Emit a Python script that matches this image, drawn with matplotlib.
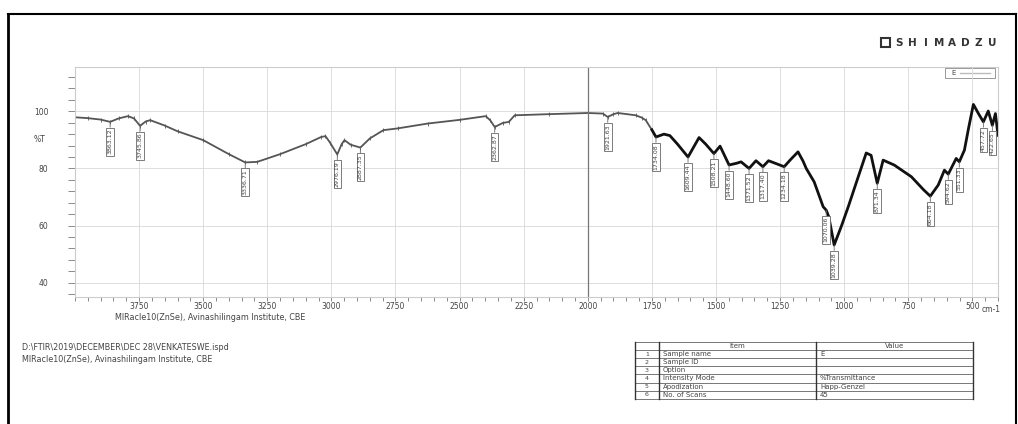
import matplotlib.pyplot as plt
import numpy as np
from matplotlib.ticker import MultipleLocator

# Datos del espectro

numero_onda = [4000, 3950, 3900, 3863, 3830, 3793, 3770, 3746, 3725, 3707, 3650, 3600, 3500,
               3400, 3336, 3289, 3200, 3100, 3040, 3023, 3005, 2977, 2960, 2949, 2925, 2887,
               2850, 2797, 2742, 2625, 2500, 2398, 2380, 2363, 2332, 2308, 2285, 2150, 2000,
               1941, 1922, 1900, 1883, 1813, 1790, 1774, 1750, 1734, 1703, 1680, 1650, 1609,
               1566, 1540, 1508, 1484, 1449, 1420, 1402, 1371, 1344, 1317, 1295, 1260, 1234,
               1210, 1180, 1160, 1148, 1117, 1082, 1070, 1060, 1039, 1010, 984, 945, 914, 895,
               871, 848, 805, 738, 690, 664, 633, 609, 594, 563, 551, 531, 515, 496, 475, 457,
               438, 422, 410, 400]
transmitancia = [97.9, 97.6, 97.1, 96.3, 97.5, 98.3, 97.5, 94.9, 96.4, 96.9, 95.0, 93.0, 89.9,
                 85.0, 82.1, 82.3, 85.0, 88.5, 91.0, 91.3, 89.0, 84.9, 88.5, 89.9, 88.3, 87.3,
                 90.5, 93.4, 94.0, 95.7, 97.0, 98.3, 96.8, 94.5, 95.9, 96.3, 98.6, 99.0, 99.4,
                 99.2, 98.0, 99.0, 99.4, 98.6, 97.8, 96.9, 93.5, 91.0, 92.0, 91.5, 88.5, 84.0,
                 90.8, 88.5, 85.2, 87.8, 81.2, 81.8, 82.3, 80.0, 82.7, 80.6, 82.7, 81.5, 80.6,
                 83.0, 85.8, 82.5, 80.0, 75.3, 66.6, 65.4, 63.1, 53.2, 60.0, 66.6, 77.1, 85.4, 84.6,
                 74.8, 82.9, 81.2, 77.1, 72.5, 70.3, 74.2, 79.4, 78.0, 83.5, 82.3, 86.4, 94.0, 102.4,
                 99.0, 96.3, 100.1, 95.1, 99.2, 91.6]

# Picos etiquetados
picos_x = [3863, 3746, 3336, 2977, 2887, 2363, 1922, 1734, 1609, 1508, 1449, 1371, 1317,
           1234, 1070, 1039, 871, 664, 594, 551, 457, 422]
picos_y = [96.3, 94.9, 82.1, 84.9, 87.3, 94.5, 98.0, 91.0, 84.0, 85.2, 81.2, 80.0, 80.6,
           80.6, 65.4, 53.2, 74.8, 70.3, 78.0, 82.3, 96.3, 95.1]
picos_etiquetas = ['3863.12', '3745.86', '3336.71', '2976.19', '2887.35', '2362.87', '1921.63',
                   '1734.08', '1609.44', '1508.21', '1448.60', '1371.52', '1317.40', '1234.18',
                   '1070.06', '1039.28', '871.34', '664.18', '594.62', '551.33', '457.72', '422.65']

# Tabla de parametros
tabla_num = ['1', '2', '3', '4', '5', '6']
tabla_item = ['Sample name', 'Sample ID', 'Option', 'Intensity Mode', 'Apodization', 'No. of Scans']
tabla_valor = ['E', '', '', '%Transmittance', 'Happ-Genzel', '45']

gris = '#444444'

fig = plt.figure(figsize=(10.18, 4.24), dpi=100)

# Capa de decoracion en pixeles
deco = fig.add_axes([0, 0, 1, 1])
deco.set_xlim(0, 1018)
deco.set_ylim(424, 0)
deco.axis('off')

ax = fig.add_axes([75 / 1018, 1 - 297 / 424, 923 / 1018, 230 / 424])
ax.set_zorder(2)
ax.patch.set_alpha(0)

# Espectro
x = np.array(numero_onda)
y = np.array(transmitancia)
izq = x >= 1750
ax.plot(x[izq], y[izq], color='#555555', lw=1.3, marker='|', ms=2.5, mew=0.6)
ax.plot(x[x <= 1750], y[x <= 1750], color='#111111', lw=2.0)

for px, py, et in zip(picos_x, picos_y, picos_etiquetas):
    ax.annotate(et, xy=(px, py), xytext=(0, -5), textcoords='offset points',
                rotation=90, ha='center', va='top', fontsize=4.5, color=gris,
                bbox=dict(boxstyle='square,pad=0.2', fc='white', ec='#666666', lw=0.6),
                arrowprops=dict(arrowstyle='-', color='#666666', lw=0.6, shrinkA=0, shrinkB=0))

ax.set_xlim(4000, 400)
ax.set_ylim(35, 115.5)
ax.xaxis.set_major_locator(MultipleLocator(250))
ax.xaxis.set_minor_locator(MultipleLocator(50))
ax.yaxis.set_minor_locator(MultipleLocator(4))
ax.set_yticks([40, 60, 80, 100])
ax.tick_params(axis='both', which='both', direction='out', color='#777777', labelsize=5.5,
               labelcolor=gris, width=0.6)
ax.tick_params(axis='x', which='major', length=3, pad=0.5)
ax.tick_params(axis='x', which='minor', length=3)
ax.tick_params(axis='y', which='both', pad=14, length=5)
xt = [3750, 3500, 3250, 3000, 2750, 2500, 2250, 2000, 1750, 1500, 1250, 1000, 750, 500]
ax.set_xticks(xt)
ax.set_xticklabels([str(v) for v in xt])
ax.grid(True, which='major', color='#dddddd', lw=0.7)
ax.axvline(2000, color='#777777', lw=0.9)
for s in ax.spines.values():
    s.set_color('#cccccc')
    s.set_linewidth(0.8)

# Textos
deco.text(40, 140, '%T', fontsize=5.5, color=gris, ha='center', va='center')
deco.text(991, 309, 'cm-1', fontsize=5.5, color=gris, ha='center', va='center')
deco.text(210, 317, 'MIRacle10(ZnSe), Avinashilingam Institute, CBE', fontsize=5.8, color=gris,
          ha='center', va='center')
deco.text(22, 348, 'D:\\FTIR\\2019\\DECEMBER\\DEC 28\\VENKATESWE.ispd', fontsize=5.8, color=gris,
          ha='left', va='center')
deco.text(22, 359, 'MIRacle10(ZnSe), Avinashilingam Institute, CBE', fontsize=5.8, color=gris,
          ha='left', va='center')

# Logo
deco.add_patch(plt.Rectangle((881, 38), 9, 9, fc='none', ec='#333333', lw=1.5))
for i, letra in enumerate('SHIMADZU'):
    deco.text(899 + i * 13.3, 43, letra, fontsize=7.5, fontweight='bold', color='#333333',
              ha='center', va='center')

# Caja de leyenda
deco.add_patch(plt.Rectangle((945, 68), 50, 10, fc='white', ec='#888888', lw=0.6, zorder=3))
deco.text(954, 73, 'E', fontsize=5, color=gris, ha='center', va='center', zorder=4)
deco.plot([960, 990], [73, 73], color='#bbbbbb', lw=1, zorder=4)

# Tabla
t_izq, t_num, t_item, t_val, t_der = 635, 659, 659, 816, 973
t_sup, alto = 342, 8.1
filas = len(tabla_item) + 1
t_inf = t_sup + filas * alto
for k in range(filas + 1):
    yy = t_sup + k * alto
    deco.plot([t_izq, t_der], [yy, yy], color='#777777', lw=0.7)
for xx in [t_izq, t_num, t_val, t_der]:
    deco.plot([xx, xx], [t_sup, t_inf], color='#333333', lw=1.0)
deco.text((t_item + t_val) / 2, t_sup + alto / 2, 'Item', fontsize=5, color=gris,
          ha='center', va='center')
deco.text((t_val + t_der) / 2, t_sup + alto / 2, 'Value', fontsize=5, color=gris,
          ha='center', va='center')
for k, (n, it, va) in enumerate(zip(tabla_num, tabla_item, tabla_valor)):
    yy = t_sup + (k + 1.5) * alto
    deco.text((t_izq + t_num) / 2, yy, n, fontsize=4.5, color=gris, ha='center', va='center')
    deco.text(t_item + 4, yy, it, fontsize=5, color=gris, ha='left', va='center')
    deco.text(t_val + 4, yy, va, fontsize=5, color=gris, ha='left', va='center')

# Marco
deco.plot([8, 8], [14, 424], color='black', lw=2)
deco.plot([8, 1016], [14, 14], color='black', lw=1.5)
deco.plot([1016, 1016], [14, 424], color='black', lw=1.5)

plt.savefig('out.png', dpi=100)
